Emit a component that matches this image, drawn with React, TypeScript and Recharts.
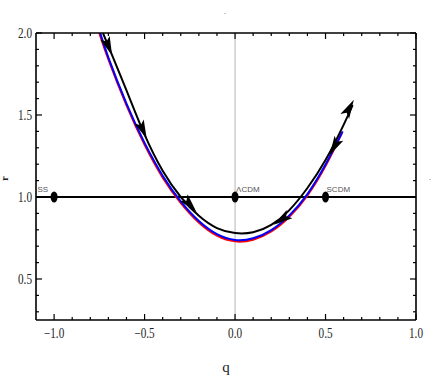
import React from 'react';
import { ComposedChart, Line, Scatter, XAxis, YAxis, ReferenceLine } from 'recharts';

// red / blue / black r(q) trajectories
const redQ = [-0.75, -0.7, -0.6, -0.5, -0.4, -0.3, -0.2, -0.1, 0.0, 0.1, 0.2, 0.3, 0.4, 0.5, 0.59];
const redR = [2.0, 1.84, 1.56, 1.32, 1.12, 0.965, 0.845, 0.765, 0.73, 0.74, 0.79, 0.88, 1.01, 1.19, 1.39];
const blueQ = [-0.745, -0.7, -0.6, -0.5, -0.4, -0.3, -0.2, -0.1, 0.0, 0.1, 0.2, 0.3, 0.4, 0.5, 0.595];
const blueR = [2.0, 1.85, 1.57, 1.33, 1.13, 0.973, 0.853, 0.773, 0.738, 0.748, 0.798, 0.888, 1.018, 1.198, 1.4];
const blackQ = [-0.73, -0.7, -0.6, -0.5, -0.4, -0.3, -0.2, -0.1, 0.0, 0.1, 0.2, 0.3, 0.4, 0.5, 0.6, 0.65];
const blackR = [2.0, 1.92, 1.65, 1.38, 1.16, 1.0, 0.885, 0.81, 0.78, 0.785, 0.83, 0.92, 1.055, 1.225, 1.44, 1.56];

// fixed points on r = 1
const pointQ = [-1.0, 0.0, 0.5];
const pointR = [1.0, 1.0, 1.0];
const pointNames = ['SS', 'ΛCDM', 'SCDM'];

// arrow heads on the black curve: where they sit and the point they head toward
const arrowQ = [-0.7, -0.51, -0.25, 0.26, 0.55, 0.63];
const arrowR = [1.92, 1.41, 0.955, 0.865, 1.31, 1.54];
const arrowToQ = [-0.68, -0.49, -0.23, 0.24, 0.53, 0.65];
const arrowToR = [1.865, 1.36, 0.93, 0.85, 1.27, 1.58];

const xTicks = [-1.0, -0.9, -0.8, -0.7, -0.6, -0.5, -0.4, -0.3, -0.2, -0.1, 0.0, 0.1, 0.2, 0.3, 0.4, 0.5, 0.6, 0.7, 0.8, 0.9, 1.0];
const yTicks = [0.3, 0.4, 0.5, 0.6, 0.7, 0.8, 0.9, 1.0, 1.1, 1.2, 1.3, 1.4, 1.5, 1.6, 1.7, 1.8, 1.9, 2.0];

const X_DOMAIN = [-1.1, 1.0];
const Y_DOMAIN = [0.25, 2.0];
const PLOT_W = 380;
const PLOT_H = 287;
const PX = PLOT_W / (X_DOMAIN[1] - X_DOMAIN[0]);
const PY = PLOT_H / (Y_DOMAIN[1] - Y_DOMAIN[0]);

const toRows = (qs: number[], rs: number[]) => qs.map((q, i) => ({ q, r: rs[i] }));

const redData = toRows(redQ, redR);
const blueData = toRows(blueQ, blueR);
const blackData = toRows(blackQ, blackR);
const pointData = pointQ.map((q, i) => ({ q, r: pointR[i], name: pointNames[i] }));
const arrowData = arrowQ.map((q, i) => ({ q, r: arrowR[i], tq: arrowToQ[i], tr: arrowToR[i] }));

const isMajor = (v: number) => Math.abs(v * 2 - Math.round(v * 2)) < 1e-6;
const fmt = (v: number) => (v < 0 ? '\u2212' + Math.abs(v).toFixed(1) : v.toFixed(1));

const SERIF = '"Liberation Serif", "DejaVu Serif", serif';

// condensed serif label, like the Mathematica export
const TickText = ({ x, y, anchor, children }: any) => (
  <text
    transform={`translate(${x},${y}) scale(0.8,1)`}
    textAnchor={anchor}
    fontFamily={SERIF}
    fontSize={14}
    fill="#222"
  >
    {children}
  </text>
);

const BottomTick = ({ x, y, payload }: any) => {
  const major = isMajor(payload.value);
  return (
    <g>
      <line x1={x} x2={x} y1={y} y2={y - (major ? 6 : 3)} stroke="#000" strokeWidth={1.2} />
      {major && <TickText x={x} y={y + 18} anchor="middle">{fmt(payload.value)}</TickText>}
    </g>
  );
};

const TopTick = ({ x, y, payload }: any) => {
  const major = isMajor(payload.value);
  return <line x1={x} x2={x} y1={y} y2={y + (major ? 6 : 3)} stroke="#000" strokeWidth={1.2} />;
};

const LeftTick = ({ x, y, payload }: any) => {
  const major = isMajor(payload.value);
  return (
    <g>
      <line x1={x} x2={x + (major ? 6 : 3)} y1={y} y2={y} stroke="#000" strokeWidth={1.2} />
      {major && <TickText x={x - 4} y={y + 5} anchor="end">{fmt(payload.value)}</TickText>}
    </g>
  );
};

const RightTick = ({ x, y, payload }: any) => {
  const major = isMajor(payload.value);
  return <line x1={x} x2={x - (major ? 6 : 3)} y1={y} y2={y} stroke="#000" strokeWidth={1.2} />;
};

const ArrowHead = (props: any) => {
  const { cx, cy, payload } = props;
  const ang = (Math.atan2(-(payload.tr - payload.r) * PY, (payload.tq - payload.q) * PX) * 180) / Math.PI;
  return (
    <polygon
      points="10,0 -9,-5 -5,0 -9,5"
      fill="#000"
      transform={`translate(${cx},${cy}) rotate(${ang})`}
    />
  );
};

const FixedPoint = (props: any) => {
  const { cx, cy, payload } = props;
  const left = payload.name === 'SS';
  return (
    <g>
      <ellipse cx={cx} cy={cy} rx={3.5} ry={5.5} fill="#000" />
      <text
        x={left ? cx - 6 : cx + 1}
        y={cy - 5}
        textAnchor={left ? 'end' : 'start'}
        fontFamily='"Liberation Sans Narrow", "Liberation Sans", sans-serif'
        fontSize={8}
        fill="#555"
      >
        {payload.name}
      </text>
    </g>
  );
};

export default function App() {
  return (
    <div style={{ position: 'absolute', left: 0, top: 0, width: 436, height: 382, background: '#fff' }}>
      <ComposedChart width={436} height={382} margin={{ top: 32, right: 19, bottom: 22, left: 0 }}>
        <XAxis
          xAxisId="b"
          type="number"
          dataKey="q"
          domain={X_DOMAIN}
          ticks={xTicks}
          interval={0}
          height={40}
          tickSize={0}
          tickMargin={0}
          tickLine={false}
          tick={<BottomTick />}
          axisLine={{ stroke: '#000', strokeWidth: 1.6 }}
          allowDataOverflow
          label={{
            content: ({ viewBox }: any) => (
              <text
                x={viewBox.x + viewBox.width / 2}
                y={viewBox.y + 52}
                textAnchor="middle"
                fontFamily={SERIF}
                fontSize={15}
                fill="#222"
              >
                q
              </text>
            ),
          }}
        />
        <XAxis
          xAxisId="t"
          orientation="top"
          type="number"
          dataKey="q"
          domain={X_DOMAIN}
          ticks={xTicks}
          interval={0}
          height={1}
          tickSize={0}
          tickMargin={0}
          tickLine={false}
          tick={<TopTick />}
          axisLine={{ stroke: '#000', strokeWidth: 1.6 }}
          allowDataOverflow
        />
        <YAxis
          yAxisId="l"
          type="number"
          dataKey="r"
          domain={Y_DOMAIN}
          ticks={yTicks}
          interval={0}
          width={36}
          tickSize={0}
          tickMargin={0}
          tickLine={false}
          tick={<LeftTick />}
          axisLine={{ stroke: '#000', strokeWidth: 1.6 }}
          allowDataOverflow
          label={{
            content: ({ viewBox }: any) => (
              <text
                x={8}
                y={viewBox.y + viewBox.height / 2 + 2}
                textAnchor="middle"
                transform={`rotate(-90, 8, ${viewBox.y + viewBox.height / 2 + 2})`}
                fontFamily={SERIF}
                fontWeight="bold"
                fontSize={10}
                fill="#222"
              >
                r
              </text>
            ),
          }}
        />
        <YAxis
          yAxisId="rt"
          orientation="right"
          type="number"
          dataKey="r"
          domain={Y_DOMAIN}
          ticks={yTicks}
          interval={0}
          width={1}
          tickSize={0}
          tickMargin={0}
          tickLine={false}
          tick={<RightTick />}
          axisLine={{ stroke: '#000', strokeWidth: 1.6 }}
          allowDataOverflow
        />
        <ReferenceLine xAxisId="b" yAxisId="l" x={0} stroke="#b5b5b5" strokeWidth={1} />
        <ReferenceLine xAxisId="b" yAxisId="l" y={1} stroke="#000" strokeWidth={2} />
        <Line xAxisId="b" yAxisId="l" data={redData} dataKey="r" type="natural" stroke="#ff0000" strokeWidth={2.2} dot={false} isAnimationActive={false} />
        <Line xAxisId="b" yAxisId="l" data={blueData} dataKey="r" type="natural" stroke="#0000ff" strokeWidth={2} dot={false} isAnimationActive={false} />
        <Line xAxisId="b" yAxisId="l" data={blackData} dataKey="r" type="natural" stroke="#000" strokeWidth={2} dot={false} isAnimationActive={false} />
        <Scatter xAxisId="b" yAxisId="l" data={arrowData} dataKey="r" shape={<ArrowHead />} isAnimationActive={false} />
        <Scatter xAxisId="b" yAxisId="l" data={pointData} dataKey="r" shape={<FixedPoint />} isAnimationActive={false} />
      </ComposedChart>
      <svg width={436} height={382} style={{ position: 'absolute', left: 0, top: 0, pointerEvents: 'none' }}>
        <text x={224} y={14} fontSize={8} fill="#333" fontFamily="serif">.</text>
        <text x={429} y={180} fontSize={8} fill="#333" fontFamily="serif">.</text>
      </svg>
    </div>
  );
}
